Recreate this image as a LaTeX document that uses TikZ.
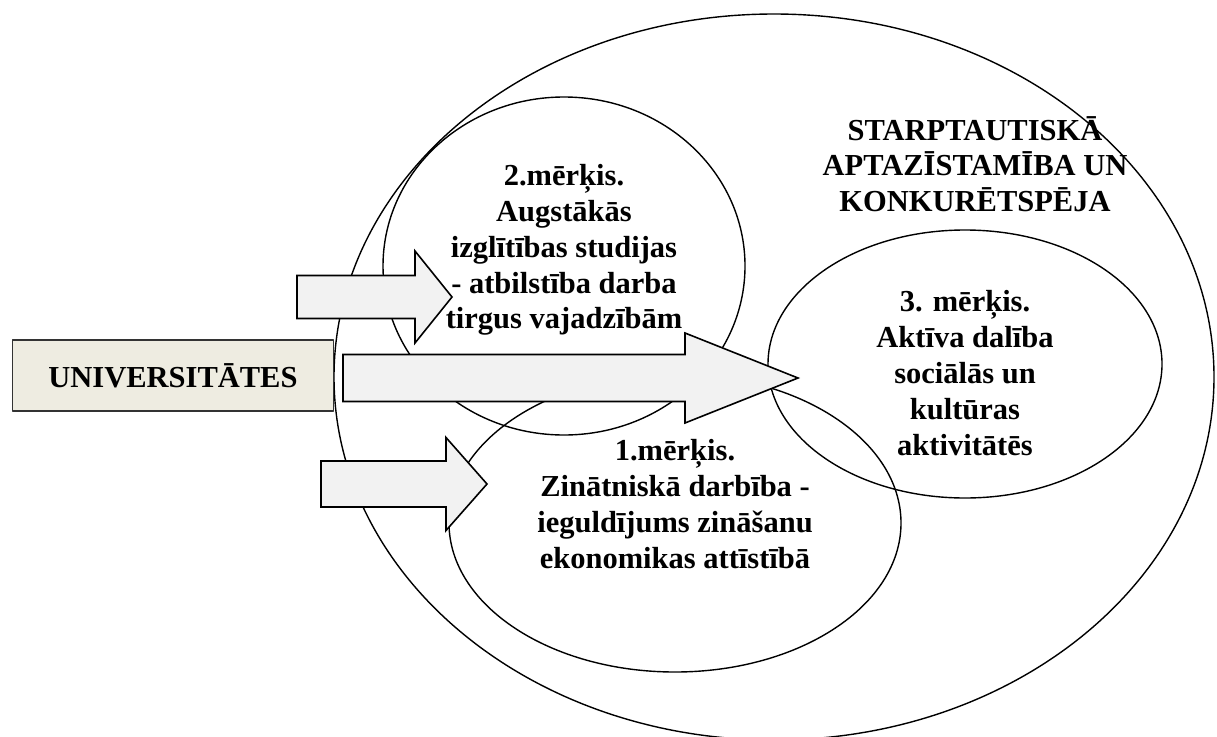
\documentclass[tikz,border=0pt]{standalone}
\usepackage{fontspec}
\setmainfont{Liberation Serif}
\definecolor{boxtan}{HTML}{EEECE1}
\definecolor{arrowgray}{HTML}{F2F2F2}
\begin{document}
\begin{tikzpicture}[x=1pt,y=-1pt,line join=round,thick]
        \tikzset{every node/.style={font=\fontsize{30.5}{35.8}\selectfont\bfseries,align=center,inner sep=0pt},
            goal/.style={line width=1.4pt},
            unibox/.style={draw=black!80,line width=1.8pt,fill=boxtan,minimum width=321,minimum height=71},
            blockarrow/.style={draw,fill=arrowgray,line width=1.6pt,line join=miter}}
        \useasboundingbox (0,0) rectangle (1217,736);
        % ellipses
        \draw[goal] (774,377) ellipse [x radius=440, y radius=363];
        \draw[goal] (564,266) ellipse [x radius=181, y radius=169];
        \draw[goal] (675,523) ellipse [x radius=226, y radius=149];
        \draw[goal] (965,364) ellipse [x radius=197, y radius=134];
        % block arrows
        \foreach \xa/\xb/\xt/\yc/\hs/\hh in {297/415/452/297/21.5/46, 343/685/798/378/23.5/45, 321/446/487/484/23/46.5}
        \draw[blockarrow] (\xa,\yc-\hs)--(\xb,\yc-\hs)--(\xb,\yc-\hh)--(\xt,\yc)--(\xb,\yc+\hh)--(\xb,\yc+\hs)--(\xa,\yc+\hs)--cycle;
        \node[unibox] (uni) at (173,375.5) {UNIVERSITĀTES};
        \node (intl) at (975,164) {STARPTAUTISKĀ\\APTAZĪSTAMĪBA UN\\KONKURĒTSPĒJA};
        \node (goal2) at (564,250) {2.mērķis.\\Augstākās\\izglītības studijas\\- atbilstība darba\\tirgus vajadzībām};
        \node (goal1) at (675,504) {1.mērķis.\\Zinātniskā darbība -\\ieguldījums zināšanu\\ekonomikas attīstībā};
        \node (goal3) at (965,373) {3. mērķis.\\Aktīva dalība\\sociālās un\\kultūras\\aktivitātēs};
    \end{tikzpicture}
\end{document}
